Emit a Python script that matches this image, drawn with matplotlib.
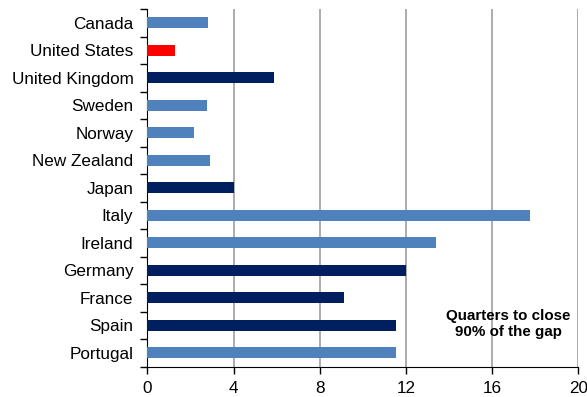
import numpy as np
import matplotlib
matplotlib.use("Agg")
from matplotlib import pyplot as plt

plt.rcParams["font.family"] = ["Liberation Sans", "DejaVu Sans"]

countries = ["Canada", "United States", "United Kingdom", "Sweden", "Norway",
             "New Zealand", "Japan", "Italy", "Ireland", "Germany", "France",
             "Spain", "Portugal"]
quarters = [2.83, 1.28, 5.88, 2.77, 2.17, 2.89, 4.0, 17.76, 13.38, 12.0, 9.12,
            11.54, 11.53]
groups = ["light", "us", "dark", "light", "light", "light", "dark", "light",
          "light", "dark", "dark", "dark", "light"]

palette = {"light": "#4F81BD", "dark": "#001F5F", "us": "#FF0000"}
colors = [palette[g] for g in groups]

fig = plt.figure(figsize=(5.87, 3.97), dpi=100)
ax = fig.add_axes([0.251, 0.0763, 0.7345, 0.9007])

y = np.arange(len(countries))
ax.barh(y, quarters, height=0.4, color=colors, zorder=3)

ax.set_xlim(0, 20)
ax.set_ylim(len(countries) - 0.5, -0.5)
ax.set_xticks([0, 4, 8, 12, 16, 20])
ax.set_yticks(y)
ax.set_yticklabels(countries)
ax.set_yticks(np.arange(-0.5, len(countries), 1), minor=True)
ax.tick_params(axis="y", which="major", length=0, labelsize=12.3, pad=10)
ax.tick_params(axis="y", which="minor", length=5, width=1, direction="out")
ax.tick_params(axis="x", length=5, width=1, direction="out", labelsize=12.3,
               pad=5)

ax.grid(axis="x", color="#A6A6A6", linewidth=1.3, zorder=0)
for s in ["top", "right"]:
    ax.spines[s].set_visible(False)
ax.spines["left"].set_color("black")
ax.spines["bottom"].set_color("black")

ax.text(16.75, 10.95, "Quarters to close\n90% of the gap", ha="center",
        va="center", fontsize=10.9, fontweight="bold", linespacing=1.25,
        zorder=4)

fig.savefig("out.png", dpi=100)
